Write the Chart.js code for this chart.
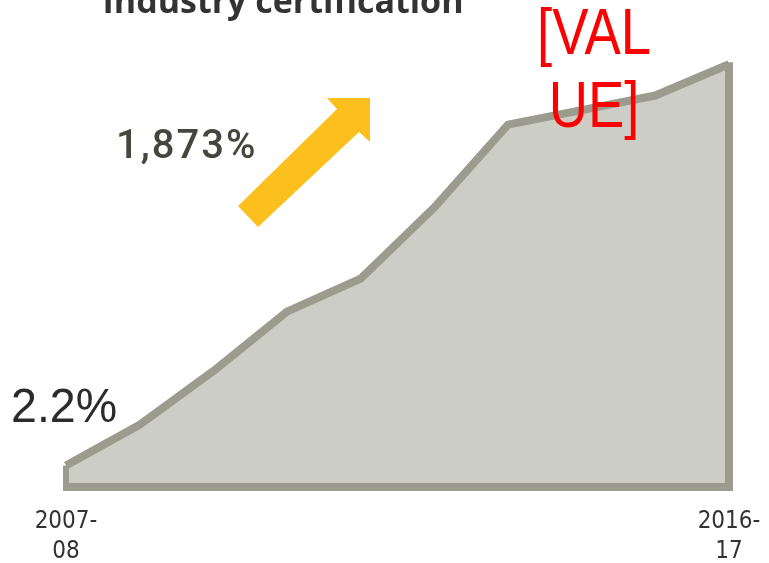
<!DOCTYPE html>
<html>
<head>
<meta charset="utf-8">
<script src="https://cdn.jsdelivr.net/npm/chart.js@4.4.1/dist/chart.umd.min.js"></script>
<style>
  html, body { margin: 0; padding: 0; background: #fff; }
  #wrap { width: 769px; height: 563px; }
</style>
</head>
<body>
<div id="wrap"><canvas id="certChart" width="769" height="563"></canvas></div>
<script>
// data (% of students with industry certification)
const years = ['2007-08', '2008-09', '2009-10', '2010-11', '2011-12',
               '2012-13', '2013-14', '2014-15', '2015-16', '2016-17'];
const certShare = [2.2, 6.4, 11.9, 18.0, 21.4, 28.7, 37.2, 38.7, 40.2, 43.4];
const tickLabels = [['2007-', '08'], ['2016-', '17']];
const titleText = 'Industry certification';
const startLabel = '2.2%';
const endLabel = ['[VAL', 'UE]'];
const growthLabel = '1,873%';

const lineColor = '#9b9c8e';
const fillColor = '#cccdc4';

// closes the area with the same thick outline (left, bottom, right)
const outlinePlugin = {
  id: 'outline',
  afterDatasetsDraw(chart) {
    const pts = chart.getDatasetMeta(0).data;
    const base = chart.scales.y.getPixelForValue(0);
    const first = pts[0], last = pts[pts.length - 1];
    const c = chart.ctx;
    c.save();
    c.strokeStyle = lineColor;
    c.lineJoin = 'miter';
    c.lineWidth = 6;
    c.beginPath();
    c.moveTo(first.x, first.y);
    c.lineTo(first.x, base);
    c.stroke();
    c.lineWidth = 8;
    c.beginPath();
    c.moveTo(first.x - 3, base);
    c.lineTo(last.x, base);
    c.lineTo(last.x, last.y - 2);
    c.stroke();
    c.restore();
  }
};

// narrow text: Liberation Sans squeezed horizontally
function narrowText(c, text, x, y, size, squeeze) {
  c.save();
  c.font = size + "px 'Liberation Sans', Arial, sans-serif";
  c.translate(x, y);
  c.scale(squeeze, 1);
  c.fillText(text, 0, 0);
  c.restore();
}

// title, annotations and the yellow arrow
const annotationPlugin = {
  id: 'annotations',
  afterDraw(chart) {
    const c = chart.ctx;
    c.save();
    c.textBaseline = 'alphabetic';

    c.fillStyle = '#333333';
    c.font = "bold 34px 'Open Sans', sans-serif";
    c.textAlign = 'center';
    c.fillText(titleText, 283, 13);

    c.fillStyle = '#2b2b2b';
    c.textAlign = 'left';
    narrowText(c, startLabel, 11, 422, 49, 0.95);

    c.fillStyle = '#ff0000';
    c.textAlign = 'center';
    narrowText(c, endLabel[0], 594, 54, 64, 0.85);
    narrowText(c, endLabel[1], 594, 127, 64, 0.85);

    c.fillStyle = '#46463c';
    c.font = "500 40px Roboto, sans-serif";
    c.textAlign = 'left';
    c.letterSpacing = '2px';
    c.fillText(growthLabel, 116, 158);
    c.letterSpacing = '0px';

    c.fillStyle = '#fcc01e';
    c.beginPath();
    c.moveTo(258, 227);
    c.lineTo(359, 132);
    c.lineTo(370, 142);
    c.lineTo(370, 98);
    c.lineTo(327, 98);
    c.lineTo(337, 109);
    c.lineTo(238, 206);
    c.closePath();
    c.fill();
    c.restore();
  }
};

const ctx = document.getElementById('certChart').getContext('2d');
new Chart(ctx, {
  type: 'line',
  data: {
    labels: years,
    datasets: [{
      data: certShare,
      borderColor: lineColor,
      backgroundColor: fillColor,
      borderWidth: 8,
      borderJoinStyle: 'round',
      fill: 'origin',
      tension: 0,
      pointRadius: 0
    }]
  },
  options: {
    responsive: false,
    animation: false,
    layout: { padding: { left: 66, right: 40, top: 0, bottom: -4 } },
    plugins: {
      legend: { display: false },
      tooltip: { enabled: false }
    },
    scales: {
      x: {
        offset: false,
        grid: { display: false, drawTicks: true, tickLength: 20 },
        border: { display: false },
        ticks: {
          autoSkip: false,
          maxRotation: 0,
          padding: 0,
          color: '#333333',
          font: { family: "'DejaVu Sans Condensed', sans-serif", size: 24, lineHeight: '30px' },
          callback: (v, i) => i === 0 ? tickLabels[0] : (i === years.length - 1 ? tickLabels[1] : '')
        }
      },
      y: {
        display: false,
        min: 0,
        max: 50
      }
    }
  },
  plugins: [outlinePlugin, annotationPlugin]
});
</script>
</body>
</html>
